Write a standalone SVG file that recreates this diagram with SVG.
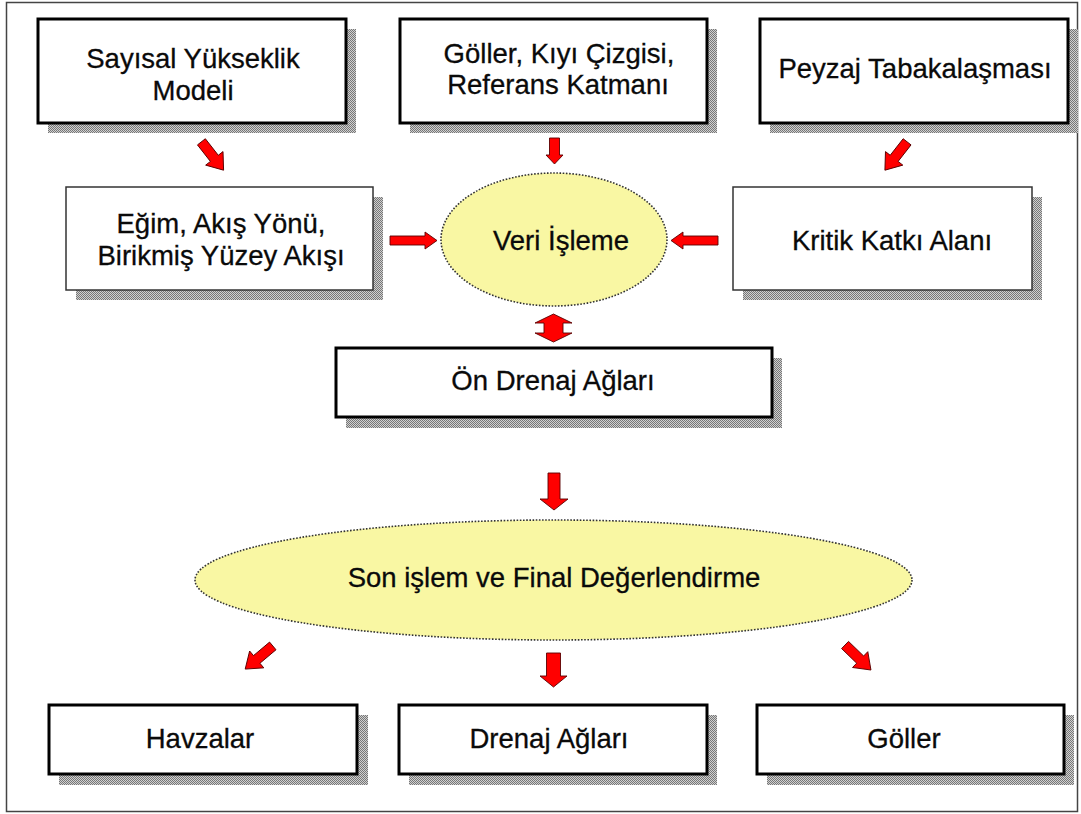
<svg xmlns="http://www.w3.org/2000/svg" width="1081" height="814" viewBox="0 0 1081 814">
<defs>
<pattern id="chk" width="2" height="2" patternUnits="userSpaceOnUse">
<rect width="2" height="2" fill="#d0d0d0"/>
<rect width="1" height="1" fill="#777"/>
<rect x="1" y="1" width="1" height="1" fill="#777"/>
</pattern>
<path id="arH" d="M-23.5,-4.5 H11.5 V-8.5 L23.5,0 L11.5,8.5 V4.5 H-23.5 Z"/>
<path id="arD" d="M-18,-5 H3 V-11 L18,0 L3,11 V5 H-18 Z"/>
</defs>
<style>
.sh{fill:url(#chk);}
.bx{fill:#fff;stroke:#000;stroke-width:3;}
.bxt{fill:#fff;stroke:#333;stroke-width:1.5;}
.el{fill:#f9f7a3;stroke:#333;stroke-width:1.6;stroke-dasharray:1.6 1.6;}
.t{font-family:"Liberation Sans",Arial,sans-serif;font-size:27.5px;fill:#0a0a0a;text-anchor:middle;stroke:#0a0a0a;stroke-width:0.3;}
.ar{fill:#ff0000;stroke:#5a0000;stroke-width:0.9;stroke-linejoin:round;}
</style>
<rect x="6.5" y="2.5" width="1071" height="809" fill="#fff" stroke="#444" stroke-width="1.5"/>

<g id="n-sayisal">
<rect class="sh" x="48" y="29" width="308" height="104"/>
<rect class="bx" x="38" y="19" width="308" height="104"/>
<text class="t" x="193" y="68">Sayısal Yükseklik</text>
<text class="t" x="193" y="100">Modeli</text>
</g>
<g id="n-goller-kiyi">
<rect class="sh" x="410" y="29" width="307" height="104"/>
<rect class="bx" x="400" y="19" width="307" height="104"/>
<text class="t" x="559" y="63">Göller, Kıyı Çizgisi,</text>
<text class="t" x="558" y="94">Referans Katmanı</text>
</g>
<g id="n-peyzaj">
<rect class="sh" x="770" y="29" width="308" height="104"/>
<rect class="bx" x="760" y="19" width="308" height="104"/>
<text class="t" x="915" y="78">Peyzaj Tabakalaşması</text>
</g>
<g id="n-egim">
<rect class="sh" x="76" y="197" width="307" height="103"/>
<rect class="bxt" x="66" y="187" width="307" height="103"/>
<text class="t" x="221" y="233">Eğim, Akış Yönü,</text>
<text class="t" x="221" y="265">Birikmiş Yüzey Akışı</text>
</g>
<g id="n-veri">
<ellipse class="el" cx="554" cy="239.5" rx="113" ry="66.5"/>
<text class="t" x="561" y="250">Veri İşleme</text>
</g>
<g id="n-kritik">
<rect class="sh" x="743" y="197" width="299" height="103"/>
<rect class="bxt" x="733" y="187" width="299" height="103"/>
<text class="t" x="892" y="250">Kritik Katkı Alanı</text>
</g>
<g id="n-on-drenaj">
<rect class="sh" x="346" y="358" width="436" height="70"/>
<rect class="bx" x="336" y="348" width="436" height="69"/>
<text class="t" x="553" y="390">Ön Drenaj Ağları</text>
</g>
<g id="n-son">
<ellipse class="el" cx="553.5" cy="580" rx="358.5" ry="60"/>
<text class="t" x="554" y="587">Son işlem ve Final Değerlendirme</text>
</g>
<g id="n-havzalar">
<rect class="sh" x="59" y="715" width="309" height="70"/>
<rect class="bx" x="49" y="705" width="308" height="69"/>
<text class="t" x="200" y="748">Havzalar</text>
</g>
<g id="n-drenaj">
<rect class="sh" x="409" y="715" width="308" height="70"/>
<rect class="bx" x="399" y="705" width="308" height="69"/>
<text class="t" x="549" y="748">Drenaj Ağları</text>
</g>
<g id="n-goller">
<rect class="sh" x="767" y="715" width="307" height="70"/>
<rect class="bx" x="757" y="705" width="307" height="69"/>
<text class="t" x="904" y="748">Göller</text>
</g>

<g id="connectors">
<use href="#arD" class="ar" transform="translate(212.5,156) rotate(52)"/>
<path class="ar" d="M549.5,138 H559.5 V155 H563 L554.5,164 L546,155 H549.5 Z"/>
<use href="#arD" class="ar" transform="translate(896,156) rotate(128)"/>
<use href="#arH" class="ar" transform="translate(413.5,240.5)"/>
<use href="#arH" class="ar" transform="translate(694.5,240.5) rotate(180)"/>
<path class="ar" d="M553.5,314 L572,323 H563 V333 H572 L553.5,342 L535,333 H544 V323 H535 Z"/>
<path class="ar" d="M548,473 H560 V499 H568 L554,510 L540,499 H548 Z"/>
<use href="#arD" class="ar" transform="translate(259,657.5) rotate(140)"/>
<path class="ar" d="M546.5,653 H560.5 V676 H567 L553.5,687 L540,676 H546.5 Z"/>
<use href="#arD" class="ar" transform="translate(858,657.5) rotate(44)"/>
</g>
</svg>
